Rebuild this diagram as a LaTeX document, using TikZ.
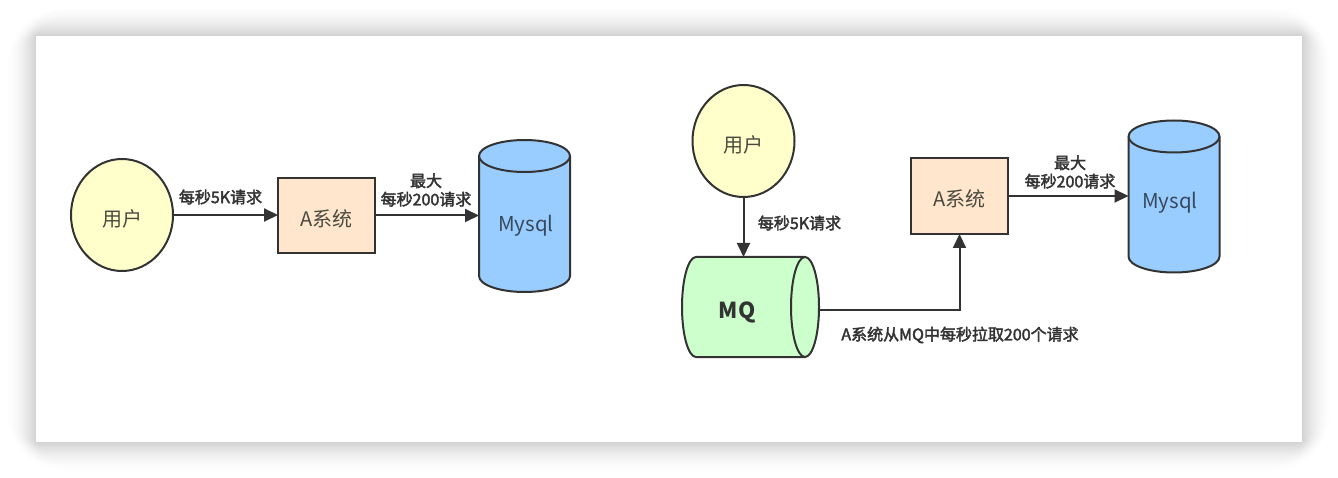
\documentclass[tikz,border=0pt]{standalone}
\usepackage{fontspec}
\setmainfont{Noto Sans CJK SC}
\newfontfamily\lblfont[FakeBold=2.4]{Noto Sans CJK SC}
\usetikzlibrary{shapes.geometric,arrows.meta}
\definecolor{ink}{HTML}{333333}
\definecolor{txt}{HTML}{4A4A3F}
\definecolor{yellowfill}{HTML}{FFFFCC}
\definecolor{boxfill}{HTML}{FFE6CC}
\definecolor{dbfill}{HTML}{99CCFF}
\definecolor{dbtext}{HTML}{37495C}
\definecolor{mqfill}{HTML}{CCFFCC}
\tikzset{
 every node/.style={inner sep=0pt,outer sep=0pt,text=ink},
 shapeline/.style={draw=ink,line width=2pt},
 usernode/.style={shapeline,ellipse,fill=yellowfill,minimum width=102pt,minimum height=112pt},
 boxnode/.style={shapeline,rectangle,fill=boxfill,minimum width=97pt,minimum height=75pt},
 insidetext/.style={font=\fontsize{20}{24}\selectfont,text=txt},
 dbtextstyle/.style={font=\fontsize{20.5}{24}\selectfont,text=dbtext},
 lbl/.style={font=\fontsize{16}{20}\lblfont,align=center},
 flow/.style={draw=ink,line width=2pt,-{Triangle[length=14pt,width=13pt]}},
}
% vertical cylinder: name, centre x, centre y
\newcommand{\dbcyl}[3]{%
  \draw[shapeline,fill=dbfill,line join=round] (#2-45.5,#3-60) -- (#2-45.5,#3+60)
     arc[start angle=180,end angle=360,x radius=45.5pt,y radius=16pt] -- (#2+45.5,#3-60)
     arc[start angle=0,end angle=180,x radius=45.5pt,y radius=16pt] -- cycle;
  \draw[shapeline] (#2-45.5,#3-60) arc[start angle=180,end angle=360,x radius=45.5pt,y radius=16pt];
  \node[minimum width=91pt,minimum height=152pt] (#1) at (#2,#3) {};
}
\begin{document}
\begin{tikzpicture}[x=1pt,y=-1pt]
\useasboundingbox (0,0) rectangle (1338,478);
\fill[white] (0,0) rectangle (1338,478);
% soft page shadow
\foreach \i in {30,29,...,1}{
  \fill[black!\fpeval{17*((31-\i)/30)^1.8}!white,rounded corners=\fpeval{2*\i+1}pt] (36-\i,36-\i) rectangle (1302+\i,442+\i);
}
\fill[white] (36,36) rectangle (1302,442);
% left diagram
\node[usernode] (u1) at (122,215) {};
\node[insidetext] (ut1) at (122,218.5) {用户};
\node[boxnode] (a1) at (326.5,215.5) {};
\node[insidetext] (at1) at (326.5,218.5) {A系统};
\dbcyl{d1}{524.5}{216}
\node[dbtextstyle] (m1) at (526,226) {Mysql};
\draw[flow] (u1.east) -- (u1.east -| a1.west);
\draw[flow] (a1.east) -- (a1.east -| d1.west);
\node[lbl] (l1) at (220.5,197) {每秒5K请求};
\node[lbl] (l2) at (426,190) {最大\\[-1.5pt]每秒200请求};
% right diagram
\node[usernode] (u2) at (743.5,141) {};
\node[insidetext] (ut2) at (743.5,145) {用户};
% MQ cylinder
\draw[shapeline,fill=mqfill,line join=round] (805,257) -- (696,257)
   arc[start angle=90,end angle=270,x radius=14pt,y radius=50pt] -- (805,357)
   arc[start angle=270,end angle=450,x radius=14pt,y radius=50pt] -- cycle;
\draw[shapeline] (805,257) arc[start angle=90,end angle=270,x radius=14pt,y radius=50pt];
\node[minimum width=137pt,minimum height=100pt] (q) at (750.5,307) {};
\node[font=\fontsize{22}{26}\selectfont\bfseries] (qt) at (737,312) {MQ};
\node[boxnode,minimum height=76pt] (a2) at (959.5,196) {};
\node[insidetext] (at2) at (959.5,199) {A系统};
\dbcyl{d2}{1174}{196.5}
\node[dbtextstyle] (m2) at (1170,203) {Mysql};
\draw[flow] (u2.south) -- (u2.south |- q.north);
\draw[flow] (q.east |- 0,310) -| (a2.south);
\draw[flow] (a2.east) -- (a2.east -| d2.west);
\node[lbl] (l3) at (799.5,223) {每秒5K请求};
\node[lbl] (l4) at (1070,172) {最大\\[-1.5pt]每秒200请求};
\node[lbl] (l5) at (960,335) {A系统从MQ中每秒拉取200个请求};
\end{tikzpicture}
\end{document}
